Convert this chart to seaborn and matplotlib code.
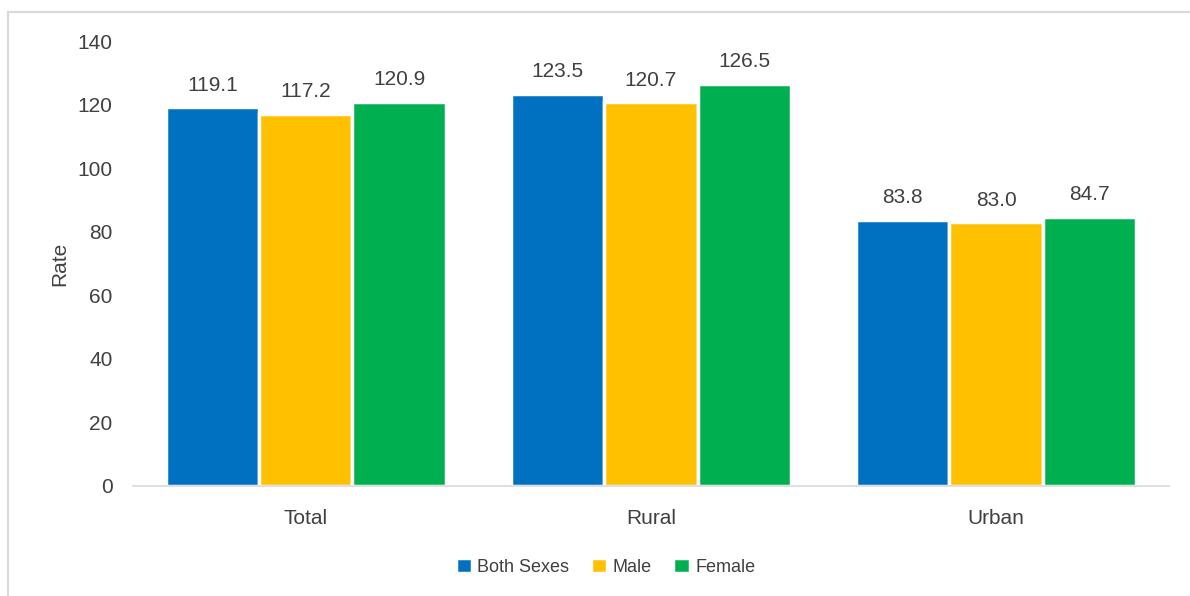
import pandas as pd
import matplotlib.pyplot as plt
import seaborn as sns
from matplotlib.patches import Rectangle

areas = ["Total", "Rural", "Urban"]
groups = ["Both Sexes", "Male", "Female"]
both_sexes = [119.1, 123.5, 83.8]
male = [117.2, 120.7, 83.0]
female = [120.9, 126.5, 84.7]
colors = ["#0070C0", "#FFC000", "#00B050"]

df = pd.DataFrame({
    "Area": areas * 3,
    "Sex": [g for g in groups for _ in areas],
    "Rate": both_sexes + male + female,
})

sns.set_style("white")
plt.rcParams["font.family"] = ["Liberation Sans", "DejaVu Sans"]
text_color = "#404040"

fig = plt.figure(figsize=(11.9, 5.96), dpi=100)
ax = fig.add_axes([0.112, 0.185, 0.870, 0.746])

sns.barplot(data=df, x="Area", y="Rate", hue="Sex", palette=colors,
            width=0.81, edgecolor="white", linewidth=2.5, saturation=1,
            ax=ax)

for c in ax.containers:
    ax.bar_label(c, fmt="%.1f", padding=9, fontsize=15, color=text_color)

ax.set_ylim(0, 140)
ax.set_xlim(-0.5, 2.5)
ax.set_yticks(range(0, 141, 20))
ax.set_xlabel("")
ax.set_ylabel("Rate", fontsize=15, color=text_color, labelpad=6)
ax.tick_params(axis="both", length=0, labelsize=15, colors=text_color)
ax.tick_params(axis="x", pad=17)
ax.tick_params(axis="y", pad=15)
for side in ["top", "right", "left"]:
    ax.spines[side].set_visible(False)
ax.spines["bottom"].set_color("#d9d9d9")
ax.spines["bottom"].set_linewidth(1.2)

leg = ax.legend(loc="center", bbox_to_anchor=(0.456, -0.183), ncol=3,
                frameon=False, fontsize=13, handlelength=0.9, handleheight=0.9,
                handletextpad=0.3, columnspacing=1.2)
for t in leg.get_texts():
    t.set_color(text_color)

# outer frame of the chart area
fig.patches.append(Rectangle((8 / 1190, -0.05), 1.1, 1.05 - 12 / 596,
                             transform=fig.transFigure, fill=False,
                             edgecolor="#d9d9d9", linewidth=1.5))

fig.savefig("out.png", dpi=100)
